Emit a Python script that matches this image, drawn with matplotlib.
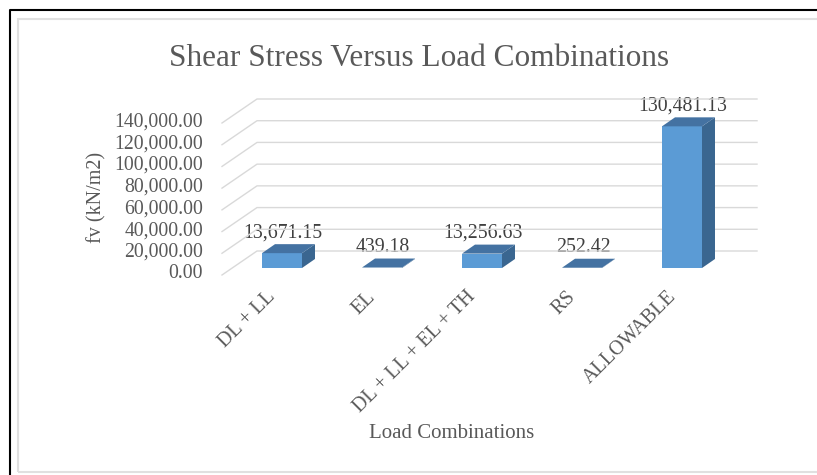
import matplotlib
matplotlib.use("Agg")
import matplotlib.pyplot as plt
import matplotlib.transforms as mtransforms
from matplotlib.patches import Polygon, Rectangle
from matplotlib.lines import Line2D
import numpy as np

categories = ["DL + LL", "EL", "DL + LL + EL + TH", "RS", "ALLOWABLE"]
values = [13671.15, 439.18, 13256.63, 252.42, 130481.13]
value_labels = ["13,671.15", "439.18", "13,256.63", "252.42", "130,481.13"]
yticks = [0, 20000, 40000, 60000, 80000, 100000, 120000, 140000]
ytick_labels = ["0.00", "20,000.00", "40,000.00", "60,000.00", "80,000.00",
                "100,000.00", "120,000.00", "140,000.00"]
title = "Shear Stress Versus Load Combinations"
xlabel = "Load Combinations"
ylabel = "fv (kN/m2)"

W, H = 817, 475
plt.rcParams['font.family'] = ['Liberation Serif', 'DejaVu Serif']
TXT = '#595959'
FRONT = '#5B9BD5'
TOP = '#4472A2'
SIDE = '#3A6690'
GRID = '#D9D9D9'

fig = plt.figure(figsize=(W / 100, H / 100), dpi=100)
ax = fig.add_axes([222 / W, 200 / H, 500 / W, 152 / H])
ax.set_xlim(-0.5, 4.5)
ax.set_ylim(0, 140000)
ax.axis('off')
fig.canvas.draw()

D = np.array([35.0, 24.0])      # full depth of the floor / wall
F = np.array([10.0, 7.0])       # bar front plane depth
B = F + np.array([13.0, 9.0])   # bar back plane depth
BW = 0.4

ident = mtransforms.IdentityTransform()

def disp(x, y, off):
    p = ax.transData.transform((x, y))
    return p + off

# gridlines: side wall diagonal + back wall horizontal
for v in yticks:
    p0 = disp(-0.5, v, np.zeros(2))
    p1 = disp(-0.5, v, D)
    p2 = disp(4.5, v, D)
    fig.add_artist(Line2D([p0[0], p1[0], p2[0]], [p0[1], p1[1], p2[1]],
                          transform=ident, color=GRID, lw=1.0, zorder=1))

# bars
for i, v in enumerate(values):
    x0, x1 = i - BW / 2, i + BW / 2
    fl = disp(x0, 0, F); fr = disp(x1, 0, F)
    tl = disp(x0, v, F); tr = disp(x1, v, F)
    btl = disp(x0, v, B); btr = disp(x1, v, B); bbr = disp(x1, 0, B)
    fig.add_artist(Polygon([fr, bbr, btr, tr], closed=True, transform=ident,
                           facecolor=SIDE, edgecolor='none', zorder=3))
    fig.add_artist(Polygon([fl, fr, tr, tl], closed=True, transform=ident,
                           facecolor=FRONT, edgecolor='none', zorder=4))
    fig.add_artist(Polygon([tl, tr, btr, btl], closed=True, transform=ident,
                           facecolor=TOP, edgecolor='none', zorder=5))
    ax.text(i, v, value_labels[i], ha='center', va='baseline', fontsize=14.3,
            color='#404040', clip_on=False,
            transform=ax.transData + mtransforms.Affine2D().translate(F[0] + 1, B[1] + 7))

# y tick labels
for v, lab in zip(yticks, ytick_labels):
    ax.text(-0.5, v, lab, ha='right', va='center', fontsize=14.2, color=TXT,
            clip_on=False,
            transform=ax.transData + mtransforms.Affine2D().translate(-19, 1))

# category labels
for i, lab in enumerate(categories):
    ax.text(i, 0, lab, ha='right', va='center', rotation=45, rotation_mode='anchor',
            fontsize=14.5, color=TXT, clip_on=False,
            transform=ax.transData + mtransforms.Affine2D().translate(F[0] - 9, -19))

fig.text(419 / W, 1 - 66 / H, title, ha='center', va='baseline', fontsize=22.5, color=TXT)
fig.text(452 / W, 1 - 433 / H, xlabel, ha='center', va='center', fontsize=15, color=TXT)
fig.text(97 / W, 1 - 197 / H, ylabel, ha='center', va='center', rotation=90,
         fontsize=14.5, color=TXT)

# frames
fig.add_artist(Line2D([10, 10, W], [0, H - 10, H - 10], transform=ident,
                      color='black', lw=1.5))
fig.add_artist(Rectangle((18, 3), W, H - 22, transform=ident, fill=False,
                         edgecolor='#E0E0E0', lw=1.5))

fig.savefig('out.png', dpi=100)
